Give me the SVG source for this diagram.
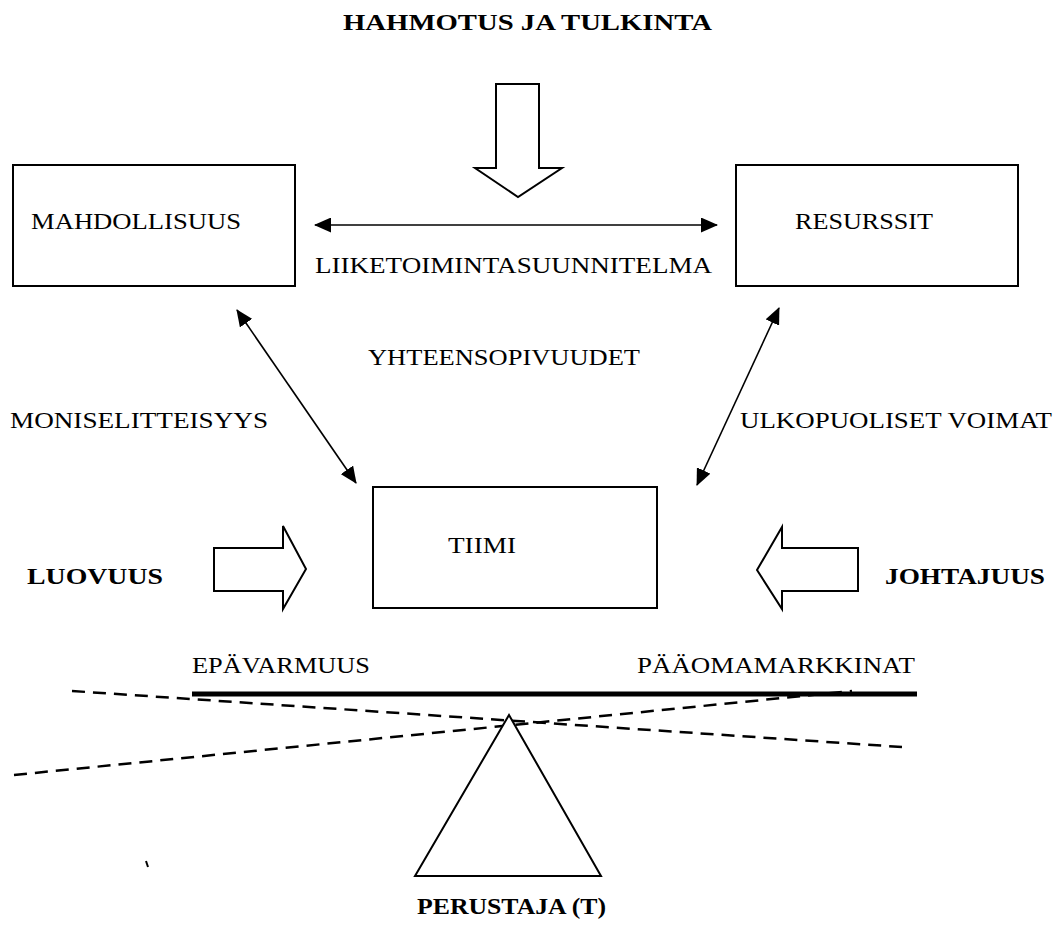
<svg xmlns="http://www.w3.org/2000/svg" width="1058" height="928" viewBox="0 0 1058 928">
<style>
text{font-family:"Liberation Serif","Times New Roman",serif;font-size:24px;fill:#000}
.b{font-weight:bold}
.box{fill:#fff;stroke:#000;stroke-width:2}
.blk{fill:#fff;stroke:#000;stroke-width:2;stroke-linejoin:miter}
.con{stroke:#000;stroke-width:1.6;fill:none}
.dash{stroke:#000;stroke-width:2.5;stroke-dasharray:13 8;fill:none}
</style>
<defs>
<marker id="ah" markerUnits="userSpaceOnUse" markerWidth="17" markerHeight="15" refX="16" refY="7.5" orient="auto-start-reverse">
<path d="M0,0 L17,7.5 L0,15 Z" fill="#000"/>
</marker>
</defs>
<rect width="1058" height="928" fill="#fff"/>
<g id="title"><text class="b" x="343" y="30" textLength="369" lengthAdjust="spacingAndGlyphs">HAHMOTUS JA TULKINTA</text></g>
<g id="arrow-down"><polygon class="blk" points="496,84 539,84 539,168 562,168 518,197 475,168 496,168"/></g>
<g id="mahdollisuus"><rect class="box" x="13" y="165" width="282" height="121"/><text x="31" y="229" textLength="210" lengthAdjust="spacingAndGlyphs">MAHDOLLISUUS</text></g>
<g id="resurssit"><rect class="box" x="736" y="165" width="282" height="121"/><text x="795" y="229" textLength="138" lengthAdjust="spacingAndGlyphs">RESURSSIT</text></g>
<g id="tiimi"><rect class="box" x="373" y="487" width="284" height="121"/><text x="448" y="553" textLength="68" lengthAdjust="spacingAndGlyphs">TIIMI</text></g>
<g id="connectors">
<line class="con" x1="315" y1="225" x2="717" y2="225" marker-start="url(#ah)" marker-end="url(#ah)"/>
<line class="con" x1="237" y1="310" x2="356" y2="483" marker-start="url(#ah)" marker-end="url(#ah)"/>
<line class="con" x1="779" y1="308" x2="697" y2="485" marker-start="url(#ah)" marker-end="url(#ah)"/>
</g>
<g id="labels">
<text x="315" y="273" textLength="397" lengthAdjust="spacingAndGlyphs">LIIKETOIMINTASUUNNITELMA</text>
<text x="368" y="365" textLength="272" lengthAdjust="spacingAndGlyphs">YHTEENSOPIVUUDET</text>
<text x="10" y="428" textLength="258" lengthAdjust="spacingAndGlyphs">MONISELITTEISYYS</text>
<text x="740" y="428" textLength="312" lengthAdjust="spacingAndGlyphs">ULKOPUOLISET VOIMAT</text>
</g>
<g id="luovuus"><text class="b" x="27" y="584" textLength="136" lengthAdjust="spacingAndGlyphs">LUOVUUS</text><polygon class="blk" points="214,548 283,548 283,526 306,569 283,609 283,591 214,591"/></g>
<g id="johtajuus"><text class="b" x="885" y="584" textLength="160" lengthAdjust="spacingAndGlyphs">JOHTAJUUS</text><polygon class="blk" points="858,548 782,548 782,527 757,570 782,609 782,591 858,591"/></g>
<g id="balance">
<text x="192" y="673" textLength="178" lengthAdjust="spacingAndGlyphs">EPÄVARMUUS</text>
<text x="637" y="673" textLength="278" lengthAdjust="spacingAndGlyphs">PÄÄOMAMARKKINAT</text>
<line x1="192" y1="694" x2="917" y2="694" stroke="#000" stroke-width="5"/>
<line class="dash" x1="72" y1="691" x2="902" y2="747"/>
<line class="dash" x1="14" y1="775" x2="852" y2="691"/>
</g>
<g id="perustaja"><polygon class="box" points="509,715 601,876 415,876" stroke-width="1.6"/><text class="b" x="417" y="914" textLength="189" lengthAdjust="spacingAndGlyphs">PERUSTAJA (T)</text></g>
<line x1="146" y1="861" x2="148" y2="867" stroke="#000" stroke-width="2"/>
</svg>
